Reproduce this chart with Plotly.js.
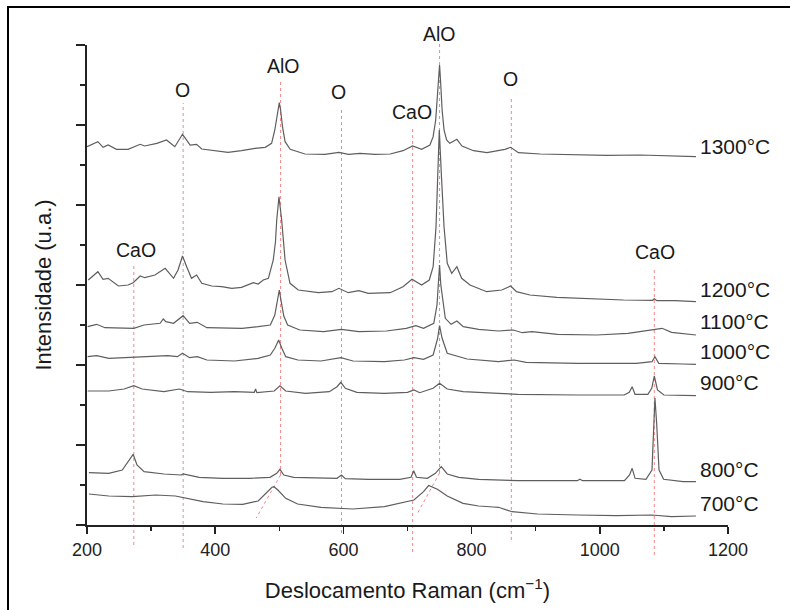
<!DOCTYPE html>
<html>
<head>
<meta charset="utf-8">
<script src="https://cdn.plot.ly/plotly-3.0.1.min.js"></script>
<style>
  html, body { margin: 0; padding: 0; background: #fff; }
  #wrap { position: relative; width: 790px; height: 610px; overflow: hidden; }
  #chart { width: 790px; height: 610px; }
  #frame { position: absolute; left: 7px; top: 6px; width: 800px; height: 620px;
           border-left: 2px solid #000; border-top: 2px solid #000; pointer-events: none; }
</style>
</head>
<body>
<div id="wrap"><div id="chart"></div><div id="frame"></div></div>
<script>
// ---- Data (Raman shift in cm^-1, stacked intensity in a.u.) ----
const x1300 = [200,217,225,233,246,264,283,290,309,324,337,349,361,371,379,404,420,441,462,478,488,493,497,500,502,505,509,517,540,571,593,608,626,649,673,693,708,722,735,740,744,746.5,749,750,751.5,754,757,761,766,777,785,803,824,844,852,861,873,907,959,1011,1063,1115,1150];
const y1300 = [378.3,383.3,377.7,380,375.7,375.7,380.7,379,381.7,385,378.3,390.7,380,380.7,376,374.3,372.7,374.3,376.7,377.7,381.7,395,411.7,422.3,415,398.3,383.3,375.7,371,370.7,372.7,370.7,371.7,370.7,371,374.3,379,375.7,380,388.3,405,428.3,452,460,445,415,395,385,381.7,385.7,379,374.3,372.3,374.3,375.7,377.7,372.3,371,370.3,369.7,370,369.3,368.3];

const x1200 = [202,217,225,233,249,264,272,283,290,306,322,335,342,349,355.5,363,371,379,394.5,410,426,441,459.5,467,475,483,490.6,494,496,499.5,503.7,506,509,516.7,529.6,561,582,593,607.6,624,639,673,693,707,722,734,740,744.5,747,749.6,753,757,762,769,777,784.5,797.5,823.6,847,852,861,870,891,933,985,1037,1082.5,1085,1089,1117,1150];
const y1200 = [245,253.3,245.7,246.7,239,240,242.3,249,247.3,250,256.7,246.7,255,269,258.3,246.7,250,241.7,239,238.3,236.7,237.7,242.3,241,245,246.7,265,283,305,328.3,305,283,265,241.7,235,232.3,233.3,236.7,232.3,234.3,231.7,232.3,238.3,245.7,240,245,258.3,298.3,348.3,395,348.3,298.3,261.7,251.7,258.3,246.7,240,233.3,235,236.7,239,233.3,230,227.7,226.3,225,224.7,226.3,224.3,224.3,223.3];

const x1100 = [201,215,228,252,273,289,314,319,323,335,350,360,372,387,412,442,467,486,493,498,500,503,507,513,532,569,597,624,667,698,713,725,741,746,748.5,750,752,755,759,768,777,787,811,842,865,879,894,934,995,1044,1081,1097,1112,1137,1150];
const y1100 = [198.3,200.7,197.3,196.7,196.7,200,201.7,206,203.3,201.7,209.3,201.7,202.7,197.3,196.7,196.7,198.3,200,210,226.7,235,223.3,209,200,195,193.3,195.7,193.3,194,196.7,199.3,196.7,201.7,220,240,260,240,223,206.7,200.7,204,198.3,195.7,194,195,192.3,193.3,190.7,190,191.7,195,196.7,192.7,190.7,190];

const x1000 = [201,215,234,258,274,295,326,341,349,360,372,387,430,467,486,493,499,504,510,529,565,596,615,664,695,710,725,740,747,750,754,762,777,793,842,866.5,885,965,1057,1081.5,1086,1092,1130,1150];
const y1000 = [168.3,169.3,166.7,167.3,168.3,168.3,169.3,168.3,171.7,167.3,168.3,165,164,166.7,170,176.7,185,176.7,168.3,165,164,167.3,164,163.3,165,167.3,165.7,170,186.7,199.3,186.7,171.7,169.3,166,163.3,165,162.7,161.7,161.7,163.3,168.3,161.7,161,160.7];

const x900 = [201,234,258,273,286,301.5,320,344,357,393,430,461,463,465,492,501,510,541,578,590,596,603,621,664,700,710,719,740,750,762,787,842,872,965,1038,1046,1050.5,1055,1075,1081,1085,1090,1100,1150];
const y900 = [134,134,136,139.3,136,135,133.3,136,133.3,132.7,133.3,132.7,136,132.3,134,139.3,134,131.7,133.3,138.3,142.7,136.7,132.7,131.7,132.7,135,132.3,136.7,141.7,136,133.3,131.7,130.7,130,130,132.7,138.3,130.7,130.7,136.7,149,135,130,129.3];

const x800 = [203,234,255,264,272,278,289,320,347,350,375,412,455,485.5,496,501,507,522.5,565,590,597,603,639,688,705.5,709.7,714,731,743.5,752.7,762,780,811,872,965,969,973,1038.5,1046.4,1050.5,1055,1072,1081.4,1084.5,1086,1088.7,1092.4,1099.6,1130,1150];
const y800 = [52.3,51.7,55,63.3,70.7,60,53.3,51,50,51,47.7,46.7,46.7,47.7,51.7,55.7,50,47.7,46.7,46.7,50,46.3,45.7,45.7,47.7,54.3,47.7,46.7,51.7,58.3,51,47.7,45.7,44.3,44.3,45.7,44.3,44.3,50,56.7,46.7,45.7,55,101.7,127,101.7,55,45.7,43.3,43.3];

const x700 = [203,234,270.5,307.5,338,357,381,412,443,467,479,488.6,491.7,497.8,510,528.6,565,614.5,664,694,710,725,733,746.6,762,786.6,811,834,842,863,903,965,1026,1081,1112,1150];
const y700 = [31,29,28.3,30,29,26.7,23.3,21,20.7,24,31.7,37.7,38.3,35,26.7,21,17.7,16,18.3,22.3,25,33.3,39.5,35.7,29,21.7,19,18,17.7,13.3,11,10,9.3,10,8.3,9];

// Temperature labels and their vertical positions (a.u.)
const tempLabels = ["1300°C","1200°C","1100°C","1000°C","900°C","800°C","700°C"];
const tempLabelY = [379, 236, 204, 174, 143, 56, 22];

// Band assignments: marker line positions (cm^-1) and labels
const bandX      = [273, 350, 502, 597, 708, 750, 862, 1085];
const bandTop    = [260, 422, 445, 418, 398, 483, 428, 258];
const bandBottom = [-20, -23, 50, -8, -27, 52, -15, -30];
const bandLabels = ["CaO","O","AlO","O","CaO","AlO","O","CaO"];
const bandLabelX = [277, 349, 506, 593, 707, 750, 861, 1086];
const bandLabelY = [275, 435, 459, 433, 413, 491, 446, 273];
// slanted guides for the shifted 700°C bands
const slantFrom = [[502, 50], [750, 52]];
const slantTo   = [[464, 7], [715, 11]];

const YMAX = 480;
const FONT = "Liberation Sans, Arial, Helvetica, sans-serif";
const LINE = "#5e5e5e";
const RED = "rgba(238,115,115,0.85)";

const series = [[x1300,y1300],[x1200,y1200],[x1100,y1100],[x1000,y1000],[x900,y900],[x800,y800],[x700,y700]];
const traces = series.map((s, i) => ({
  x: s[0], y: s[1], type: "scatter", mode: "lines", name: tempLabels[i],
  line: { color: LINE, width: 1.2 }, hoverinfo: "skip"
}));

const shapes = [];
bandX.forEach((bx, i) => {
  shapes.push({ type: "line", xref: "x", yref: "paper", x0: bx, x1: bx,
    y0: bandBottom[i] / YMAX, y1: bandTop[i] / YMAX, layer: "below",
    line: { color: RED, width: 1, dash: "3px,3px" } });
});
slantFrom.forEach((p, i) => {
  shapes.push({ type: "line", xref: "x", yref: "paper", x0: p[0], x1: slantTo[i][0],
    y0: p[1] / YMAX, y1: slantTo[i][1] / YMAX, layer: "below",
    line: { color: RED, width: 1, dash: "3px,3px" } });
});

const annotations = [];
bandLabels.forEach((t, i) => {
  annotations.push({ text: t, xref: "x", yref: "paper", x: bandLabelX[i], y: bandLabelY[i] / YMAX,
    showarrow: false, xanchor: "center", yanchor: "middle",
    font: { family: FONT, size: 19.5, color: "#1a1a1a" } });
});
tempLabels.forEach((t, i) => {
  annotations.push({ text: t, xref: "x", yref: "paper", x: 1153, y: tempLabelY[i] / YMAX,
    showarrow: false, xanchor: "left", yanchor: "middle",
    font: { family: FONT, size: 21, color: "#1a1a1a" } });
});

const layout = {
  width: 790, height: 610,
  margin: { l: 87, r: 62, t: 45, b: 85, pad: 0 },
  paper_bgcolor: "#fff", plot_bgcolor: "#fff",
  showlegend: false,
  font: { family: FONT, color: "#1a1a1a" },
  xaxis: {
    range: [200, 1200], tickvals: [200, 400, 600, 800, 1000, 1200],
    ticks: "outside", ticklen: 7, tickwidth: 1.5, tickcolor: "#222",
    minor: { dtick: 100, tick0: 200, ticks: "outside", ticklen: 4, tickwidth: 1.5, tickcolor: "#222" },
    showline: true, linecolor: "#222", linewidth: 2, showgrid: false, zeroline: false,
    tickfont: { family: FONT, size: 18, color: "#222" },
    title: { text: "Deslocamento Raman (cm<sup>−1</sup>)", font: { family: FONT, size: 22, color: "#1a1a1a" }, standoff: 24 },
    automargin: false
  },
  yaxis: {
    range: [0, YMAX], dtick: 80, tick0: 0, showticklabels: false,
    ticks: "outside", ticklen: 9, tickwidth: 1.5, tickcolor: "#222",
    minor: { dtick: 40, tick0: 0, ticks: "outside", ticklen: 5, tickwidth: 1.5, tickcolor: "#222" },
    showline: true, linecolor: "#222", linewidth: 2, showgrid: false, zeroline: false,
    title: { text: "Intensidade (u.a.)", font: { family: FONT, size: 22, color: "#1a1a1a" }, standoff: 18 },
    automargin: false
  },
  shapes: shapes,
  annotations: annotations
};

Plotly.newPlot("chart", traces, layout, { displayModeBar: false, staticPlot: true });
</script>
</body>
</html>
